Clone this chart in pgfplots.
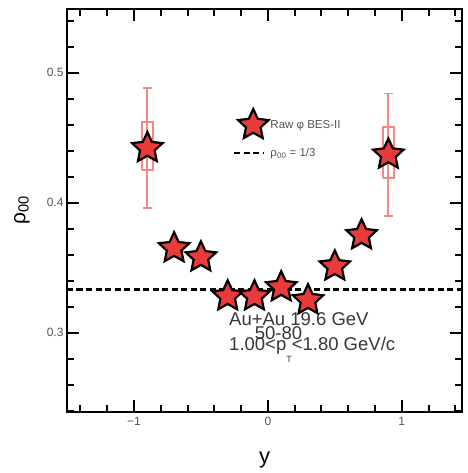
\documentclass[border=0pt]{standalone}
\usepackage{pgfplots}
\pgfplotsset{compat=1.18}
\usepackage{fontspec}
\setmainfont{Liberation Sans}
\definecolor{starred}{RGB}{235,58,58}
\definecolor{errred}{RGB}{244,135,135}
\definecolor{txtgray}{RGB}{55,55,55}
\definecolor{tickgray}{RGB}{85,85,85}
\pgfdeclareplotmark{fstar}{%
  \pgfpathmoveto{\pgfpointpolar{90}{\pgfplotmarksize}}%
  \pgfpathlineto{\pgfpointpolar{126}{0.48\pgfplotmarksize}}%
  \pgfpathlineto{\pgfpointpolar{162}{\pgfplotmarksize}}%
  \pgfpathlineto{\pgfpointpolar{198}{0.48\pgfplotmarksize}}%
  \pgfpathlineto{\pgfpointpolar{234}{\pgfplotmarksize}}%
  \pgfpathlineto{\pgfpointpolar{270}{0.48\pgfplotmarksize}}%
  \pgfpathlineto{\pgfpointpolar{306}{\pgfplotmarksize}}%
  \pgfpathlineto{\pgfpointpolar{342}{0.48\pgfplotmarksize}}%
  \pgfpathlineto{\pgfpointpolar{18}{\pgfplotmarksize}}%
  \pgfpathlineto{\pgfpointpolar{54}{0.48\pgfplotmarksize}}%
  \pgfpathclose
  \pgfusepathqfillstroke
}
\pgfplotsset{
  starleg/.style={legend image code/.code={\path[##1] plot coordinates {(19pt,0pt)};}},
  lineleg/.style={legend image code/.code={\draw[##1] (0pt,0pt) -- (29pt,0pt);}},
}
\pgfplotstableread{
x     y
-0.9  0.442
-0.7  0.365
-0.5  0.358
-0.3  0.328
-0.1  0.328
0.1   0.335
0.3   0.325
0.5   0.351
0.7   0.375
0.9   0.437
}\rhodata
\begin{document}
\begin{tikzpicture}
\begin{axis}[name=ax, scale only axis, width=395pt, height=403pt,
  xmin=-1.5, xmax=1.45, ymin=0.239, ymax=0.549,
  xtick={-1,0,1}, xticklabels={−1,0,1},
  minor xtick={-1.4,-1.2,-0.8,-0.6,-0.4,-0.2,0.2,0.4,0.6,0.8,1.2,1.4},
  ytick={0.3,0.4,0.5}, yticklabels={0.3,0.4,0.5},
  minor ytick={0.24,0.26,0.28,0.32,0.34,0.36,0.38,0.42,0.44,0.46,0.48,0.52,0.54},
  tick align=inside,
  major tick length=12pt, minor tick length=7pt,
  xtick pos=both, ytick pos=both,
  major tick style={draw=black, line width=2.2pt},
  minor tick style={draw=black, line width=2pt},
  axis line style={line width=2.6pt},
  ticklabel style={font=\fontsize{12}{12}\selectfont, text=tickgray},
  xticklabel style={yshift=-2pt},
  xlabel={y}, ylabel={ρ\textsubscript{00}},
  xlabel style={at={(axis description cs:0.5,-0.119)}, anchor=center, font=\fontsize{22}{22}\selectfont},
  ylabel style={at={(axis description cs:-0.114,0.5)}, anchor=center, font=\fontsize{21}{21}\selectfont},
  legend style={at={(axis cs:-0.262,0.4722)}, anchor=north west, draw=none, fill=none,
    inner sep=0pt, font=\fontsize{11.5}{11.5}\selectfont, text=tickgray, row sep=8pt,
    cells={anchor=west}},
]
% systematic boxes
\addplot[errred, line width=1.8pt, forget plot] coordinates {(-0.942,0.425) (-0.858,0.425) (-0.858,0.462) (-0.942,0.462) (-0.942,0.425)};
\addplot[errred, line width=1.8pt, forget plot] coordinates {(0.858,0.419) (0.942,0.419) (0.942,0.458) (0.858,0.458) (0.858,0.419)};
% statistical errors
\addplot[only marks, mark=none, forget plot, errred,
  error bars/.cd, y dir=both, y explicit,
  error bar style={line width=1.8pt, errred},
  error mark options={rotate=90, mark size=4.5pt, line width=1.8pt, errred}]
  coordinates {(-0.9,0.442) +- (0,0.046) (0.9,0.437) +- (0,0.047)};
% stars
\addplot[only marks, mark=fstar, mark size=16pt,
  mark options={draw=black, fill=starred, line width=2.2pt}, starleg]
  table[x=x, y=y] {\rhodata};
\addlegendentry{Raw φ BES-II}
\addplot[black, line width=2.6pt, dash pattern=on 6pt off 3.5pt, lineleg]
  coordinates {(-1.5,0.33333) (1.45,0.33333)};
\addlegendentry{ρ\textsubscript{00} = 1/3}
\node[anchor=west, inner sep=0pt, text=txtgray, font=\fontsize{18.5}{18.5}\selectfont] at (axis cs:-0.29,0.3105) {Au+Au 19.6 GeV};
\node[anchor=center, inner sep=0pt, text=txtgray, font=\fontsize{18.5}{18.5}\selectfont] at (axis cs:0.08,0.2995) {50-80};
\node[anchor=west, inner sep=0pt, text=txtgray, font=\fontsize{18.5}{18.5}\selectfont] at (axis cs:-0.29,0.2872) {1.00<p\raisebox{-12pt}{\fontsize{9}{9}\selectfont T}<1.80 GeV/c};
\end{axis}
\pgfresetboundingbox
\path ([shift={(-67pt,-61pt)}]ax.south west) rectangle ([shift={(5pt,9pt)}]ax.north east);
\end{tikzpicture}
\end{document}
